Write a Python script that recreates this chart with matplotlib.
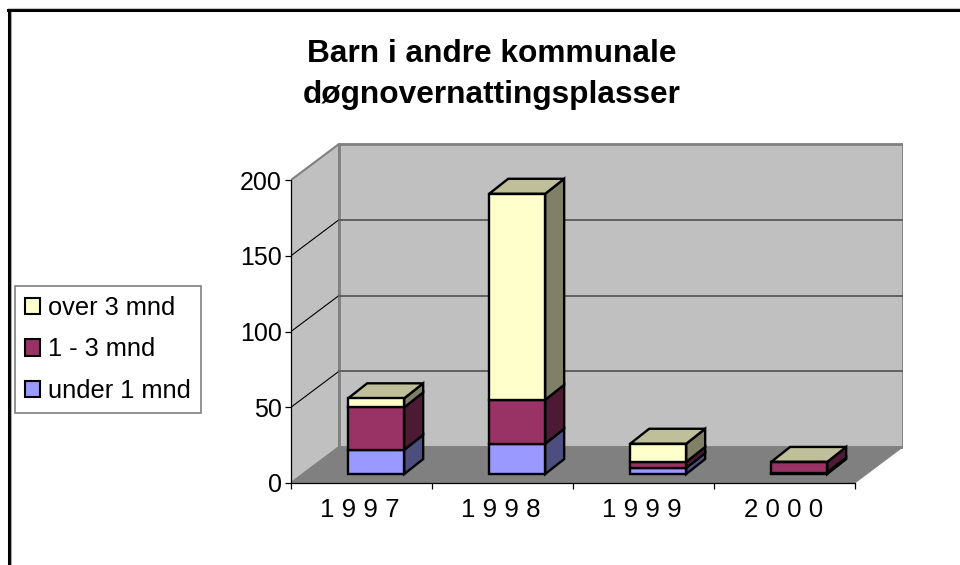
import numpy as np
import matplotlib
matplotlib.use("Agg")
import matplotlib.pyplot as plt
from matplotlib.lines import Line2D
from matplotlib.patches import Patch, Polygon

plt.rcParams['font.family'] = ['Liberation Sans', 'DejaVu Sans']

years = ['1 9 9 7', '1 9 9 8', '1 9 9 9', '2 0 0 0']
under_1 = [16, 20, 4, 1]
m1_3 = [28, 29, 4, 7]
over_3 = [6, 136, 12, 0]
yticks = [0, 50, 100, 150, 200]
labels = ['under 1 mnd', '1 - 3 mnd', 'over 3 mnd']

front_col = ['#9999FF', '#993366', '#FFFFCC']
side_col = ['#4D4D80', '#4D1A33', '#808066']
top_col = '#BFBF99'

W, H = 960, 565
# sizes of one category and one unit in pixels
px_cat = 141.0
px_val = 1.515
# depth of the chart box and of the bars, in data units
dx, dy = 48 / px_cat, 36 / px_val
bdx, bdy = 19 / px_cat, 15 / px_val
bar_w = 56 / px_cat
bar_shift = 0.104
bar_base = 5.9

fig = plt.figure(figsize=(W / 100, H / 100), dpi=100)
ax = fig.add_axes([291 / W, (H - 483) / H, 612 / W, 340 / H])
ax.set_xlim(0, 612 / px_cat)
ax.set_ylim(0, 340 / px_val)
ax.patch.set_visible(False)

n = len(years)
top = yticks[-1]

# walls and floor
ax.add_patch(Polygon([(0, 0), (dx, dy), (dx, top + dy), (0, top)],
                     fc='#C0C0C0', ec='#808080', lw=1.5, zorder=1))
ax.add_patch(Polygon([(dx, dy), (n + dx, dy), (n + dx, top + dy), (dx, top + dy)],
                     fc='#C0C0C0', ec='#808080', lw=2, zorder=1))
ax.add_patch(Polygon([(0, 0), (n, 0), (n + dx, dy), (dx, dy)],
                     fc='#808080', ec='#808080', lw=0.5, zorder=1.2))

# gridlines
for v in yticks[1:-1]:
    ax.plot([0, dx], [v, v + dy], color='black', lw=0.8, zorder=1.5)
    ax.plot([dx, n + dx], [v + dy, v + dy], color='#606060', lw=1.4, zorder=1.5)

# stacked boxes
x = np.arange(n) + 0.5 + bar_shift
series = [under_1, m1_3, over_3]
bottom = np.full(n, bar_base, dtype=float)
for vals, fc, sc in zip(series, front_col, side_col):
    vals = np.array(vals, dtype=float)
    ax.bar(x, vals, bar_w, bottom=bottom, color=fc, edgecolor='black', lw=1.7, zorder=4)
    for xi, b, v in zip(x, bottom, vals):
        if v == 0:
            continue
        r = xi + bar_w / 2
        ax.add_patch(Polygon([(r, b), (r + bdx, b + bdy), (r + bdx, b + v + bdy), (r, b + v)],
                             fc=sc, ec='black', lw=1.7, joinstyle='miter', zorder=3.5))
    bottom = bottom + vals

for xi, t in zip(x, bottom):
    l, r = xi - bar_w / 2, xi + bar_w / 2
    ax.add_patch(Polygon([(l, t), (r, t), (r + bdx, t + bdy), (l + bdx, t + bdy)],
                         fc=top_col, ec='black', lw=1.7, zorder=3.6))

# axes
for s in ['top', 'right']:
    ax.spines[s].set_visible(False)
ax.spines['left'].set_bounds(0, top)
ax.spines['bottom'].set_bounds(0, n)
ax.spines['left'].set_linewidth(0.9)
ax.spines['bottom'].set_linewidth(0.9)
ax.spines['left'].set_zorder(2)
ax.spines['bottom'].set_zorder(2)
ax.set_yticks(yticks)
ax.set_xticks(np.arange(n + 1))
ax.set_xticklabels([])
ax.set_xticks(np.arange(n) + 0.49, years, minor=True)
ax.tick_params(axis='both', which='major', length=4.5, width=0.9, labelsize=18, pad=2)
ax.tick_params(axis='x', which='minor', length=0, labelsize=18.6, pad=11)

# legend
handles = [Patch(fc=c, ec='black', lw=1.5) for c in front_col[::-1]]
leg = ax.legend(handles, labels[::-1], loc='upper left',
                bbox_to_anchor=(15 / W, 1 - 286 / H), bbox_transform=fig.transFigure,
                fontsize=18.3, fancybox=False, framealpha=1, edgecolor='#808080',
                borderaxespad=0, borderpad=0.4, labelspacing=0.68,
                handlelength=0.59, handleheight=0.61, handletextpad=0.3)
leg.get_frame().set_linewidth(1.2)

# title
fig.text(491.5 / W, 1 - 39 / H, 'Barn i andre kommunale\ndøgnovernattingsplasser',
         ha='center', va='top', fontsize=22.8, fontweight='bold', linespacing=1.46)

# chart area frame, only top and left show
for xs, ys, c, w in [([9, 9], [10, H], 'black', 2.2), ([8, W], [10, 10], 'black', 2.2),
                     ([10.7, 10.7], [12, H], '#AAAAAA', 0.8), ([8, W], [8.3, 8.3], '#C8C8C8', 0.8)]:
    fig.add_artist(Line2D(np.array(xs) / W, 1 - np.array(ys) / H, color=c, lw=w,
                          transform=fig.transFigure))

fig.savefig('out.png', dpi=100)
